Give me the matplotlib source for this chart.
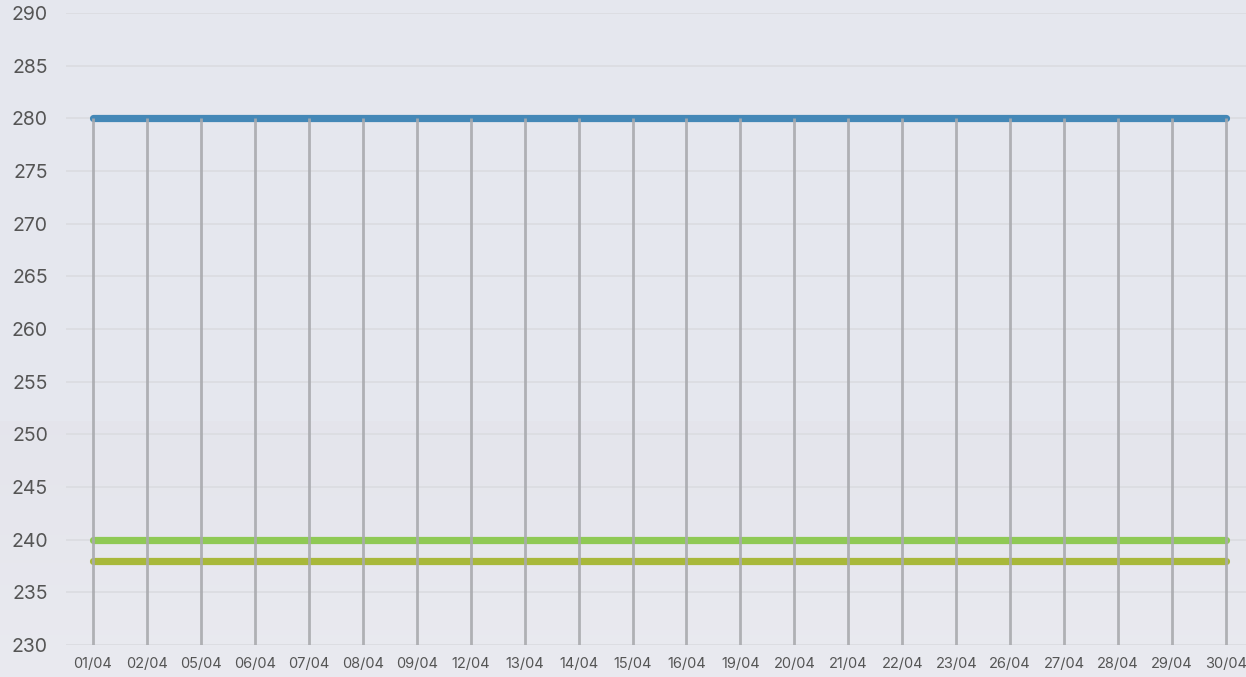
import numpy as np
import matplotlib.pyplot as plt

plt.rcParams['font.family'] = ['Inter', 'DejaVu Sans']

dates = ['01/04', '02/04', '05/04', '06/04', '07/04', '08/04', '09/04', '12/04',
         '13/04', '14/04', '15/04', '16/04', '19/04', '20/04', '21/04', '22/04',
         '23/04', '26/04', '27/04', '28/04', '29/04', '30/04']
upper = [280] * len(dates)
mid = [240] * len(dates)
lower = [238] * len(dates)
y_ticks = list(range(230, 291, 5))

fig = plt.figure(figsize=(12.46, 6.77), dpi=100)
fig.patch.set_facecolor('#e5e7ee')
ax = fig.add_axes([66 / 1246, 32 / 677, 1 - 66 / 1246, 632 / 677])
ax.set_facecolor('none')

x = np.arange(len(dates))

# soft vertical gradient behind everything
grad = np.linspace(0, 1, 256).reshape(-1, 1)
bg = np.dstack([np.interp(grad, [0, 1], [c1, c2]) for c1, c2 in
                zip((0.895, 0.897, 0.925), (0.915, 0.917, 0.94))])
fig.figimage(bg.repeat(1246, axis=1), xo=0, yo=0, zorder=-10, resize=False)

for t in y_ticks:
    ax.axhline(t, color='#dcdde2', lw=1.4, zorder=1)

ax.plot(x, upper, color='#4488b7', lw=5.2, solid_capstyle='round', zorder=3)
ax.plot(x, mid, color='#8fc955', lw=5.2, solid_capstyle='round', zorder=3)
ax.plot(x, lower, color='#a8b83a', lw=5.2, solid_capstyle='round', zorder=3)

tops = np.maximum.reduce([upper, mid, lower])
ax.vlines(x, 230, tops, color='#a9aaae', lw=2.0, alpha=0.9, zorder=4)

ax.set_xlim(-0.5, 21.37)
ax.set_ylim(230, 290)
ax.set_yticks(y_ticks)
ax.set_xticks(x)
ax.set_xticklabels(dates)
ax.tick_params(axis='y', length=0, pad=13, labelsize=14, labelcolor='#555555')
ax.tick_params(axis='x', length=0, pad=9, labelsize=10.5, labelcolor='#555555')
for s in ax.spines.values():
    s.set_visible(False)

fig.savefig('out.png', dpi=100)
